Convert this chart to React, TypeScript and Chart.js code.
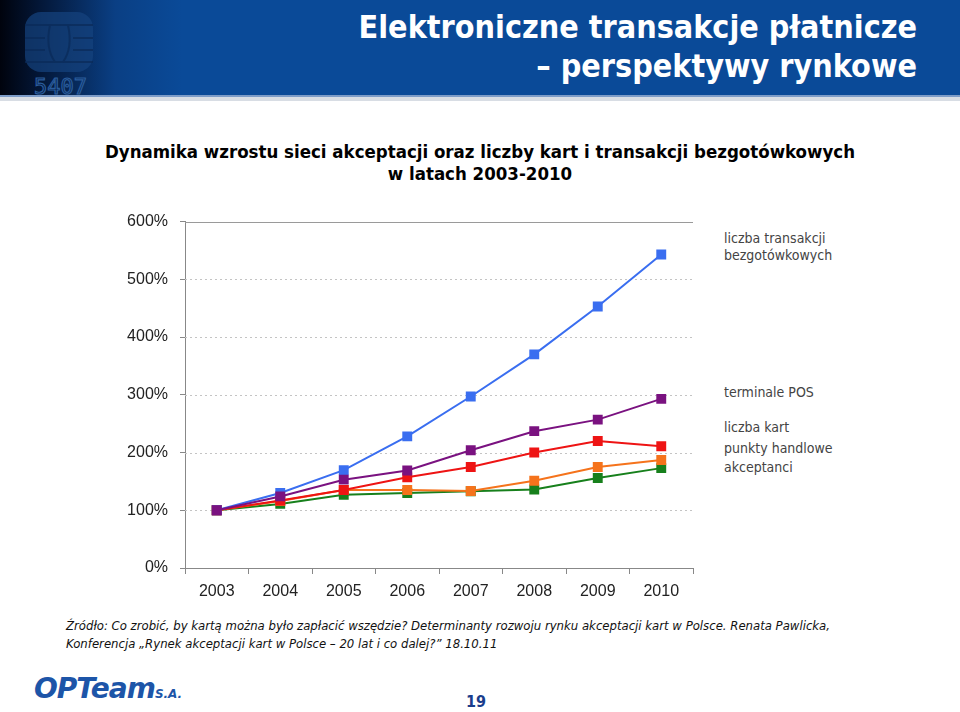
import React, { useEffect, useRef } from "react";
import { Chart, registerables } from "chart.js";
Chart.register(...registerables);

const years = ["2003", "2004", "2005", "2006", "2007", "2008", "2009", "2010"];
const transakcje = [100, 130, 169.5, 228, 297, 370, 453, 543];
const terminalePOS = [100, 124, 153, 169, 204, 237, 257, 293];
const liczbaKart = [100, 117, 135, 157, 175, 200, 220, 211];
const punktyHandlowe = [100, 116, 135, 135, 133.5, 151, 175, 187];
const akceptanci = [100, 111, 127, 130, 133, 136, 156, 173];
const yMin = 0;
const yMax = 600;
const yStep = 100;

const gridPlugin = {
  id: "dottedGrid",
  beforeDatasetsDraw(chart: any) {
    const { ctx, chartArea, scales } = chart;
    const y = scales.y;
    ctx.save();
    for (let v = yMin + yStep; v <= yMax; v += yStep) {
      const py = Math.round(y.getPixelForValue(v)) + 0.5;
      ctx.beginPath();
      if (v === yMax) {
        ctx.setLineDash([]);
        ctx.strokeStyle = "#9a9a9a";
      } else {
        ctx.setLineDash([2, 3]);
        ctx.strokeStyle = "#c4c4c4";
      }
      ctx.lineWidth = 1;
      ctx.moveTo(chartArea.left, py);
      ctx.lineTo(chartArea.right, py);
      ctx.stroke();
    }
    ctx.restore();
  },
};

function mk(label: string, data: number[], color: string) {
  return {
    label,
    data,
    borderColor: color,
    backgroundColor: color,
    borderWidth: 2,
    pointStyle: "rect" as const,
    pointRadius: 7,
    pointBorderWidth: 0,
    tension: 0,
  };
}

function LineChart() {
  const ref = useRef<HTMLCanvasElement>(null);
  useEffect(() => {
    if (!ref.current) return;
    const chart = new Chart(ref.current, {
      type: "line",
      data: {
        labels: years,
        datasets: [
          mk("terminale POS", terminalePOS, "#7a1280"),
          mk("liczba transakcji bezgotówkowych", transakcje, "#3a6ef0"),
          mk("liczba kart", liczbaKart, "#ee1414"),
          mk("punkty handlowe", punktyHandlowe, "#f5731c"),
          mk("akceptanci", akceptanci, "#17801c"),
        ],
      },
      options: {
        animation: false,
        responsive: false,
        devicePixelRatio: 1,
        layout: { padding: { top: 17, right: 5, left: 0, bottom: 0 } },
        plugins: { legend: { display: false }, tooltip: { enabled: false } },
        scales: {
          x: {
            type: "category",
            offset: true,
            grid: {
              offset: true,
              drawOnChartArea: false,
              tickLength: 6,
              tickColor: "#888",
            },
            border: { color: "#888", width: 1 },
            ticks: {
              color: "#222",
              padding: 8,
              font: { family: "'Liberation Sans', Arial, sans-serif", size: 16 },
            },
            afterFit(s: any) {
              s.height = 40;
            },
          },
          y: {
            min: yMin,
            max: yMax,
            ticks: {
              stepSize: yStep,
              color: "#222",
              padding: 12,
              font: { family: "'Liberation Sans', Arial, sans-serif", size: 16 },
              callback: (v: any) => v + "%",
            },
            grid: {
              drawOnChartArea: false,
              tickLength: 5,
              tickColor: "#888",
            },
            border: { color: "#888", width: 1 },
            afterFit(s: any) {
              s.width = 85;
            },
          },
        },
      },
      plugins: [gridPlugin],
    });
    return () => chart.destroy();
  }, []);
  return (
    <canvas
      ref={ref}
      width={600}
      height={408}
      style={{ position: "absolute", left: 100, top: 200, width: 600, height: 408 }}
    />
  );
}

const legendStyle: React.CSSProperties = {
  position: "absolute",
  left: 724,
  fontFamily: "'DejaVu Sans Condensed', Tahoma, sans-serif",
  fontSize: 14,
  color: "#444",
  lineHeight: "17px",
};

export default function App() {
  return (
    <div
      style={{
        position: "absolute",
        left: 0,
        top: 0,
        width: 960,
        height: 712,
        overflow: "hidden",
        background: "#fff",
      }}
    >
      {/* header */}
      <div
        style={{
          position: "absolute",
          left: 0,
          top: 0,
          width: 960,
          height: 95,
          background:
            "linear-gradient(90deg, #00030d 0%, #031636 4%, #072a5c 8%, #0a3f84 12%, #0a4a98 19%, #0a4a98 100%)",
        }}
      />
      <svg width={120} height={95} style={{ position: "absolute", left: 0, top: 0 }}>
        <rect x={25} y={12} width={68} height={60} rx={16} fill="#15437f" opacity={0.7} />
        <g stroke="#0a2a58" strokeWidth={2} fill="none" opacity={0.7}>
          <line x1={25} y1={25} x2={93} y2={25} />
          <line x1={25} y1={38} x2={45} y2={38} />
          <line x1={73} y1={38} x2={93} y2={38} />
          <line x1={25} y1={50} x2={45} y2={50} />
          <line x1={73} y1={50} x2={93} y2={50} />
          <line x1={25} y1={62} x2={93} y2={62} />
          <path d="M50 25 Q45 48 55 62 M68 25 Q73 48 63 62" />
        </g>
        <text
          x={34}
          y={94}
          fill="none"
          stroke="#2a5c9c"
          strokeWidth={1.2}
          fontFamily="'DejaVu Sans Mono', monospace"
          fontSize={22}
        >
          5407
        </text>
      </svg>
      <div
        style={{
          position: "absolute",
          right: 43,
          top: 8,
          textAlign: "right",
          color: "#fff",
          fontFamily: "'DejaVu Sans Condensed', Tahoma, sans-serif",
          fontWeight: "bold",
          fontSize: 32,
          lineHeight: "39px",
          whiteSpace: "nowrap",
        }}
      >
        <div>Elektroniczne transakcje płatnicze</div>
        <div>– perspektywy rynkowe</div>
      </div>
      <div style={{ position: "absolute", left: 0, top: 95, width: 960, height: 2, background: "#7d9cc8" }} />
      <div style={{ position: "absolute", left: 0, top: 97, width: 960, height: 4, background: "#d8dde4" }} />

      {/* subtitle */}
      <div
        style={{
          position: "absolute",
          left: 0,
          top: 141,
          width: 960,
          textAlign: "center",
          fontFamily: "'DejaVu Sans Condensed', Tahoma, sans-serif",
          fontWeight: "bold",
          fontSize: 18.5,
          lineHeight: "22px",
          color: "#000",
        }}
      >
        <div>Dynamika wzrostu sieci akceptacji oraz liczby kart i transakcji bezgotówkowych</div>
        <div>w latach 2003-2010</div>
      </div>

      <LineChart />

      {/* series labels */}
      <div style={{ ...legendStyle, top: 230 }}>
        liczba transakcji
        <br />
        bezgotówkowych
      </div>
      <div style={{ ...legendStyle, top: 384 }}>terminale POS</div>
      <div style={{ ...legendStyle, top: 419 }}>liczba kart</div>
      <div style={{ ...legendStyle, top: 440 }}>punkty handlowe</div>
      <div style={{ ...legendStyle, top: 459 }}>akceptanci</div>

      {/* source */}
      <div
        style={{
          position: "absolute",
          left: 66,
          top: 617,
          fontFamily: "'DejaVu Sans Condensed', Tahoma, sans-serif",
          fontStyle: "italic",
          fontSize: 13,
          lineHeight: "18px",
          color: "#111",
          whiteSpace: "nowrap",
        }}
      >
        <div>
          Źródło: Co zrobić, by kartą można było zapłacić wszędzie? Determinanty rozwoju rynku akceptacji kart w Polsce. Renata Pawlicka,
        </div>
        <div>Konferencja „Rynek akceptacji kart w Polsce – 20 lat i co dalej?” 18.10.11</div>
      </div>

      {/* logo */}
      <div
        style={{
          position: "absolute",
          left: 34,
          top: 674,
          color: "#1d55a8",
          fontFamily: "'DejaVu Sans', Verdana, sans-serif",
          fontWeight: "bold",
          fontStyle: "italic",
          fontSize: 28,
          lineHeight: "30px",
          letterSpacing: -1,
          whiteSpace: "nowrap",
        }}
      >
        OPTeam
        <span style={{ fontSize: 12, letterSpacing: 0 }}>S.A.</span>
      </div>

      {/* page number */}
      <div
        style={{
          position: "absolute",
          left: 436,
          width: 80,
          top: 692,
          textAlign: "center",
          color: "#1a3d8c",
          fontFamily: "'DejaVu Sans Condensed', Tahoma, sans-serif",
          fontWeight: "bold",
          fontSize: 16,
          lineHeight: "20px",
        }}
      >
        19
      </div>
    </div>
  );
}
